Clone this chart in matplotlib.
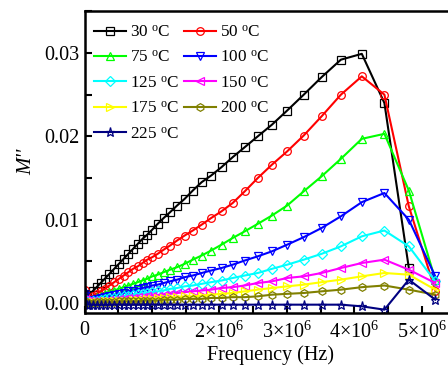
import numpy as np
import matplotlib
matplotlib.use("Agg")
import matplotlib.pyplot as plt
from matplotlib.ticker import MultipleLocator, FixedLocator, FixedFormatter

plt.rcParams['font.family'] = ['Liberation Serif', 'DejaVu Serif']
plt.rcParams['mathtext.fontset'] = 'custom'
plt.rcParams['mathtext.rm'] = 'Liberation Serif'
plt.rcParams['mathtext.it'] = 'Liberation Serif:italic'

# frequency in units of 1e6 Hz
freq_mhz = [0.005, 0.03, 0.07, 0.12, 0.18, 0.24, 0.30, 0.37, 0.44, 0.51,
            0.58, 0.65, 0.72, 0.79, 0.86, 0.93, 1.004, 1.085, 1.174, 1.269,
            1.373, 1.485, 1.606, 1.737, 1.878, 2.031, 2.197, 2.376, 2.569, 2.779,
            3.005, 3.250, 3.515, 3.801, 4.111, 4.446, 4.808, 5.200]

m_30 = [0.0005, 0.0007, 0.0010, 0.0014, 0.0019, 0.0024, 0.0029, 0.0035, 0.0041, 0.0047,
        0.0053, 0.0059, 0.0065, 0.0071, 0.0077, 0.0082, 0.0088, 0.0095, 0.0102, 0.0109,
        0.0117, 0.0125, 0.0135, 0.0145, 0.0153, 0.0163, 0.0175, 0.0187, 0.0200, 0.0214,
        0.0231, 0.0250, 0.0271, 0.0292, 0.0299, 0.0240, 0.0042, np.nan]
m_50 = [0.0016, 0.0005, 0.0006, 0.0008, 0.0011, 0.0014, 0.0017, 0.0021, 0.0025, 0.0029,
        0.0033, 0.0037, 0.0041, 0.0044, 0.0048, 0.0052, 0.0055, 0.0059, 0.0064, 0.0069,
        0.0075, 0.0081, 0.0087, 0.0094, 0.0102, 0.0110, 0.0120, 0.0134, 0.0150, 0.0166,
        0.0182, 0.0201, 0.0224, 0.0250, 0.0272, 0.0250, 0.0116, 0.0015]
m_75 = [0.0010, 0.0004, 0.0004, 0.0005, 0.0007, 0.0009, 0.0011, 0.0013, 0.0015, 0.0017,
        0.0019, 0.0021, 0.0023, 0.0025, 0.0027, 0.0029, 0.0032, 0.0034, 0.0037, 0.0040,
        0.0043, 0.0047, 0.0052, 0.0057, 0.0063, 0.0070, 0.0078, 0.0086, 0.0095, 0.0105,
        0.0117, 0.0134, 0.0152, 0.0173, 0.0197, 0.0203, 0.0135, 0.0028]
m_100 = [0.0008, 0.0003, 0.0003, 0.0004, 0.0005, 0.0006, 0.0007, 0.0008, 0.0010, 0.0011,
         0.0012, 0.0014, 0.0015, 0.0017, 0.0018, 0.0019, 0.0021, 0.0022, 0.0024, 0.0026,
         0.0028, 0.0031, 0.0033, 0.0036, 0.0039, 0.0042, 0.0046, 0.0051, 0.0056, 0.0062,
         0.0070, 0.0079, 0.0090, 0.0104, 0.0121, 0.0132, 0.0100, 0.0032]
m_125 = [0.0006, 0.0002, 0.0002, 0.0003, 0.0003, 0.0004, 0.0005, 0.0006, 0.0006, 0.0007,
         0.0008, 0.0009, 0.0010, 0.0011, 0.0011, 0.0012, 0.0013, 0.0014, 0.0015, 0.0017,
         0.0018, 0.0020, 0.0021, 0.0023, 0.0025, 0.0027, 0.0030, 0.0033, 0.0036, 0.0041,
         0.0046, 0.0052, 0.0059, 0.0068, 0.0080, 0.0087, 0.0068, 0.0026]
m_150 = [0.0005, 0.0002, 0.0002, 0.0002, 0.0002, 0.0003, 0.0003, 0.0004, 0.0004, 0.0005,
         0.0005, 0.0006, 0.0006, 0.0007, 0.0007, 0.0008, 0.0009, 0.0009, 0.0010, 0.0011,
         0.0012, 0.0013, 0.0014, 0.0015, 0.0016, 0.0018, 0.0019, 0.0021, 0.0024, 0.0026,
         0.0030, 0.0032, 0.0036, 0.0042, 0.0048, 0.0052, 0.0040, 0.0024]
m_175 = [0.0004, 0.0001, 0.0001, 0.0001, 0.0001, 0.0001, 0.0002, 0.0002, 0.0002, 0.0003,
         0.0003, 0.0003, 0.0004, 0.0004, 0.0004, 0.0005, 0.0005, 0.0006, 0.0006, 0.0007,
         0.0007, 0.0008, 0.0008, 0.0009, 0.0010, 0.0011, 0.0012, 0.0014, 0.0016, 0.0018,
         0.0020, 0.0022, 0.0025, 0.0028, 0.0032, 0.0036, 0.0034, 0.0016]
m_200 = [0.0003, 0.0000, 0.0000, 0.0000, 0.0001, 0.0001, 0.0001, 0.0001, 0.0001, 0.0002,
         0.0002, 0.0002, 0.0002, 0.0002, 0.0003, 0.0003, 0.0003, 0.0003, 0.0004, 0.0004,
         0.0004, 0.0005, 0.0005, 0.0005, 0.0006, 0.0006, 0.0007, 0.0007, 0.0008, 0.0010,
         0.0011, 0.0012, 0.0014, 0.0016, 0.0019, 0.0021, 0.0016, 0.0010]
m_225 = [0.0015, -0.0002, -0.0002, -0.0002, -0.0002, -0.0002, -0.0002, -0.0002, -0.0002, -0.0002,
         -0.0002, -0.0002, -0.0002, -0.0002, -0.0002, -0.0002, -0.0002, -0.0002, -0.0002, -0.0002,
         -0.0002, -0.0002, -0.0002, -0.0002, -0.0002, -0.0002, -0.0002, -0.0002, -0.0002, -0.0002,
         -0.0002, -0.0002, -0.0002, -0.0002, -0.0004, -0.0008, 0.0028, 0.0004]

temps = ["30", "50", "75", "100", "125", "150", "175", "200", "225"]
series = [m_30, m_50, m_75, m_100, m_125, m_150, m_175, m_200, m_225]
colors = ["#000000", "#FF0000", "#00FF00", "#0000FF", "#00FFFF",
          "#FF00FF", "#FFFF00", "#808000", "#000080"]
markers = ["s", "o", "^", "v", "D", "<", ">", "h", "*"]

x_ticks = [0, 1e6, 2e6, 3e6, 4e6, 5e6]
x_tick_labels = ["0", r"$1{\times}10^{6}$", r"$2{\times}10^{6}$", r"$3{\times}10^{6}$",
                 r"$4{\times}10^{6}$", r"$5{\times}10^{6}$"]

fig = plt.figure(figsize=(4.48, 3.69), dpi=100)
ax = fig.add_axes([84.5 / 448, 1 - 313 / 369, 371 / 448, 302 / 369])

freq = np.array(freq_mhz) * 1e6
handles = []
for name, vals, c, mk in zip(temps, series, colors, markers):
    ms = 5.5
    if mk == "*":
        ms = 6.5
    if mk == "D":
        ms = 4.8
    h, = ax.plot(freq, vals, color=c, marker=mk, markersize=ms,
                 markerfacecolor="none", markeredgecolor=c, markeredgewidth=0.9,
                 linewidth=1.5, label=name + r" $^{\mathrm{o}}$C")
    handles.append(h)

ax.set_xlim(0, 5.5e6)
ax.set_ylim(-0.0012, 0.03504)
ax.xaxis.set_major_locator(FixedLocator(x_ticks))
ax.xaxis.set_major_formatter(FixedFormatter(x_tick_labels))
ax.xaxis.set_minor_locator(MultipleLocator(0.5e6))
ax.yaxis.set_major_locator(MultipleLocator(0.01))
ax.yaxis.set_minor_locator(MultipleLocator(0.005))
ax.yaxis.set_major_formatter(plt.FuncFormatter(lambda v, p: "%.2f" % v))
ax.tick_params(which="both", direction="in", length=5, width=1.5, labelsize=14.5,
               top=False, right=False)
ax.tick_params(axis="x", pad=6)
for s in ax.spines.values():
    s.set_linewidth(1.8)

ax.set_xlabel("Frequency (Hz)", fontsize=14.5, labelpad=2)
ax.set_ylabel("M''", fontsize=15, fontstyle="italic", labelpad=6)

order = [0, 2, 4, 6, 8, 1, 3, 5, 7]
ax.legend([handles[i] for i in order], [handles[i].get_label() for i in order],
          ncol=2, loc="upper left", bbox_to_anchor=(-0.012, 1.0), frameon=False,
          fontsize=12.3, handlelength=1.9, handletextpad=0.2, columnspacing=0.3,
          labelspacing=0.55, borderaxespad=0.6, borderpad=0.2)

plt.savefig("out.png", dpi=100)
